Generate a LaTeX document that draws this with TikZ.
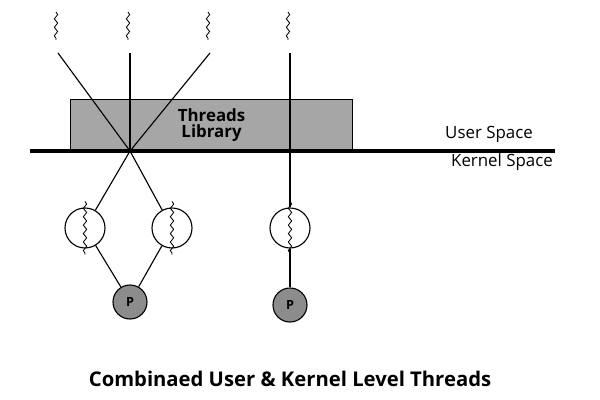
\documentclass[tikz,border=0pt]{standalone}
\usepackage{fontspec}
\setmainfont{Open Sans}
\usetikzlibrary{positioning,calc,decorations.pathmorphing}
\begin{document}
\begin{tikzpicture}[x=0.025cm,y=-0.025cm,
    line/.style={thick},
    wave/.style={decorate, decoration={snake, amplitude=1.2pt, segment length=6pt}, semithick},
    thread/.style={circle, draw, thick, minimum size=1cm, fill=white},
    proc/.style={circle, draw, thick, minimum size=0.85cm, fill=black!45, font=\bfseries\small},
    label/.style={font=\large}
]
\useasboundingbox (0,0) rectangle (600,400);

% threads library box and divide
\node[draw, thick, fill=black!35, minimum width=282*0.025cm, minimum height=51*0.025cm,
      anchor=north west, font=\bfseries\large, align=center] (lib) at (70,99) {Threads\\[-3pt]Library};
\coordinate (mux) at (130,151);
\draw[line width=2.5pt] (30,151) -- (555,151);
\node[label] (user) at (489,134) {User Space};
\node[label] (kernel) at (502,162) {Kernel Space};

% user threads
\foreach \x/\n in {58/ua,130/ub,210/uc,290/ud} {
  \coordinate (\n) at (\x,53);
  \draw[wave] (\x-2,12) -- (\x-2,40);
}
\draw[line] (ua) -- (mux);
\draw[line] (ub) -- (mux);
\draw[line] (uc) -- (mux);

% kernel threads
\node[thread] (ka) at (85,228) {};
\node[thread] (kb) at (172,228) {};
\node[thread] (kc) at (290,228) {};
\foreach \n in {ka,kb,kc}
  \draw[wave] ($(\n.north)+(0,-6)$) -- ($(\n.south)+(0,6)$);
\draw[line] (mux) -- (ka);
\draw[line] (mux) -- (kb);
\draw[line] (ud) -- (kc);

% processors
\node[proc] (pa) at (130,302) {P};
\node[proc] (pb) at (290,305) {P};
\draw[line] (ka) -- (pa);
\draw[line] (kb) -- (pa);
\draw[line] (kc) -- (pb);

\node[font=\bfseries\Large] (title) at (290,379) {Combinaed User \& Kernel Level Threads};
\end{tikzpicture}
\end{document}
